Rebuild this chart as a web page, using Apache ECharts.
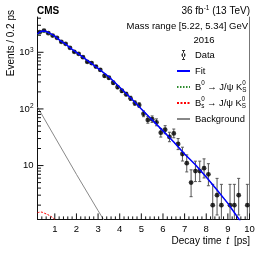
<!DOCTYPE html>
<html><head><meta charset="utf-8">
<script src="https://cdn.jsdelivr.net/npm/echarts@6/dist/echarts.min.js"></script>
<style>html,body{margin:0;padding:0;background:#fff}#c{width:266px;height:255px}</style>
</head><body><div id="c"></div>
<script>
// ---- data ----
const binCenters = [0.3,0.5,0.7,0.9,1.1,1.3,1.5,1.7,1.9,2.1,2.3,2.5,2.7,2.9,3.1,3.3,3.5,3.7,3.9,4.1,4.3,4.5,4.7,4.9,5.1,5.3,5.5,5.7,5.9,6.1,6.3,6.5,6.7,6.9,7.1,7.3,7.5,7.7,7.9,8.1,8.3,8.5,8.7,8.9,9.1,9.3,9.5,9.7,9.9];
const counts = [2270,2420,2180,1970,1800,1530,1410,1200,1020,940,820,680,645,560,490,385,355,290,243,209,182,154,127,117,82,64,66,58,38,43,32,37,24,16,11,5,8,8,9,7,2,3,2,0,2,2,3,0,2];
const fitT = [0.2,0.3,0.4,0.5,0.6,0.8,1.0,1.25,1.5,1.75,2.0,2.5,3.0,3.5,4.0,4.5,5.0,5.5,6.0,6.5,7.0,7.5,8.0,8.5,9.0,9.5,9.8];
const fitV = [2100,2280,2360,2370,2330,2130,1930,1610,1390,1160,1000,720,520,370,242,158,100,64,41,26,16,10.3,6.3,3.7,2.15,1.15,0.75];
const b0V  = [1990,2180,2270,2290,2260,2075,1895,1590,1378,1153,995,718,519,370,242,158,100,64,41,26,16,10.3,6.3,3.7,2.15,1.15,0.75];
const bsT = [0.2,0.36,0.54,0.77,1.0,1.2];
const bsV = [1.47,1.51,1.43,1.30,1.12,0.95];
const bkgT = [0.2,1.0,2.0,3.0,3.5];
const bkgV = [108,32,7.0,1.6,0.78];
const xMin = 0.2, xMax = 10, yMin = 1.12, yMax = 4200;
const xMajorTicks = [1,2,3,4,5,6,7,8,9,10];
const yMajorTicks = [10,100,1000];
const yMinorTicks = [2,3,4,5,6,7,8,9,20,30,40,50,60,70,80,90,200,300,400,500,600,700,800,900,2000,3000,4000];
const xMinorTicks = [];
for (let i = 2; i <= 49; i++) { const t = Math.round(i*2)/10; if (Math.abs(t - Math.round(t)) > 1e-6) xMinorTicks.push(t); }

const FONT = 'Liberation Sans, Arial, Helvetica, sans-serif';

// Poisson (Garwood-like) intervals derived from counts
const errData = [];
const pts = [];
binCenters.forEach((t, i) => {
  const n = counts[i];
  if (n > 0) {
    pts.push([t, n]);
    errData.push([t, n, n - Math.sqrt(n - 0.25), n + Math.sqrt(n + 0.75) + 1]);
  }
});
const zip = (a, b) => a.map((v, i) => [v, b[i]]);

const tickData = [];
xMajorTicks.forEach(t => tickData.push([t, yMin, 6, 0]));
xMinorTicks.forEach(t => tickData.push([t, yMin, 3, 0]));
yMajorTicks.forEach(v => tickData.push([xMin, v, 6, 1]));
yMinorTicks.forEach(v => tickData.push([xMin, v, 3.5, 1]));

const legendLabels = {
  'Data': 'Data',
  'Fit': 'Fit',
  'B0': 'B{sup|0} → J/ψ K{sup0|0}{sub|S}',
  'Bs': 'B{sup0|0}{sub|s} → J/ψ K{sup0|0}{sub|S}',
  'Background': 'Background'
};
const noSym = {opacity: 0};

const chart = echarts.init(document.getElementById('c'), null, {renderer: 'canvas'});
chart.setOption({
  animation: false,
  textStyle: {fontFamily: FONT},
  grid: {left: 37.5, right: 16.5, top: 17, bottom: 35.6},
  xAxis: {
    type: 'value', min: xMin, max: xMax, splitNumber: 10,
    axisLine: {show: true, onZero: false, lineStyle: {color: '#111', width: 1}},
    axisTick: {show: false}, splitLine: {show: false},
    axisLabel: {
      fontFamily: FONT, fontSize: 9.5, color: '#000', margin: 5,
      showMinLabel: false,
      formatter: v => (Math.abs(v - Math.round(v)) < 1e-6 && v >= 1) ? String(Math.round(v)) : ''
    }
  },
  yAxis: [{
    type: 'log', logBase: 10, min: yMin, max: yMax,
    axisLine: {show: true, lineStyle: {color: '#111', width: 1}},
    axisTick: {show: false}, splitLine: {show: false},
    axisLabel: {
      fontFamily: FONT, fontSize: 9.5, color: '#000', margin: 4, lineHeight: 12,
      showMinLabel: false, showMaxLabel: false,
      formatter: v => {
        const l = Math.log10(v), e = Math.round(l);
        if (Math.abs(l - e) > 1e-6 || e < 1) return '';
        return e === 1 ? '10' : '10{sup|' + e + '}';
      },
      rich: {sup: {fontSize: 6.5, lineHeight: 8, verticalAlign: 'top', fontFamily: FONT}}
    }
  }, {
    type: 'log', logBase: 10, min: yMin, max: yMax, position: 'right',
    axisLine: {show: true, lineStyle: {color: '#777', width: 1}},
    axisTick: {show: false}, axisLabel: {show: false}, splitLine: {show: false}
  }],
  legend: {
    orient: 'vertical', left: 176, top: 48.5, padding: 0, itemWidth: 13, itemHeight: 10, itemGap: 3,
    selectedMode: false,
    textStyle: {
      fontFamily: FONT, fontSize: 9.4, color: '#000', lineHeight: 13,
      rich: {
        sup: {fontSize: 6.3, lineHeight: 7, verticalAlign: 'top'},
        sup0: {fontSize: 6.3, lineHeight: 7, verticalAlign: 'top', width: 0},
        sub: {fontSize: 6.3, lineHeight: 7, verticalAlign: 'bottom'}
      }
    },
    formatter: n => legendLabels[n],
    data: [
      {name: 'Data', icon: 'path://M2,0H3V10H2Z M1,0H4V0.9H1Z M1,9.1H4V10H1Z M0.4,5A2.1,2.1,0,1,0,4.6,5A2.1,2.1,0,1,0,0.4,5Z'},
      {name: 'Fit', itemStyle: noSym},
      {name: 'B0', itemStyle: noSym},
      {name: 'Bs', itemStyle: noSym},
      {name: 'Background', itemStyle: noSym}
    ]
  },
  series: [
    {
      name: 'DataErr', type: 'custom', z: 3, silent: true,
      data: errData,
      renderItem: (params, api) => {
        const t = api.value(0), lo = api.value(2), hi = api.value(3);
        const top = api.coord([t, Math.min(hi, yMax)]);
        const botV = Math.max(lo, yMin);
        const bot = api.coord([t, botV]);
        const st = {stroke: '#555', lineWidth: 1};
        const children = [{type: 'line', shape: {x1: top[0], y1: top[1], x2: bot[0], y2: bot[1]}, style: st}];
        if (hi < yMax) children.push({type: 'line', shape: {x1: top[0]-1.5, y1: top[1], x2: top[0]+1.5, y2: top[1]}, style: st});
        if (lo > yMin) children.push({type: 'line', shape: {x1: bot[0]-1.5, y1: bot[1], x2: bot[0]+1.5, y2: bot[1]}, style: st});
        return {type: 'group', children};
      }
    },
    {
      name: 'Data', type: 'scatter', z: 4, data: pts, symbol: 'circle', symbolSize: 4.8,
      itemStyle: {color: '#000'}
    },
    {
      name: 'B0', type: 'line', z: 5, data: zip(fitT, b0V), symbol: 'none', showSymbol: false,
      lineStyle: {color: '#2e8b2e', width: 1, type: [1.5, 1.5]}, itemStyle: {color: '#2e8b2e'}
    },
    {
      name: 'Fit', type: 'line', z: 6, data: zip(fitT, fitV), symbol: 'none', showSymbol: false,
      lineStyle: {color: '#0000ff', width: 1.5}, itemStyle: {color: '#0000ff'}
    },
    {
      name: 'Bs', type: 'line', z: 6, data: zip(bsT, bsV), symbol: 'none', showSymbol: false, smooth: 0.4,
      lineStyle: {color: '#ff0000', width: 1, type: [2, 1.5]}, itemStyle: {color: '#ff0000'}
    },
    {
      name: 'Background', type: 'line', z: 6, data: zip(bkgT, bkgV), symbol: 'none', showSymbol: false,
      lineStyle: {color: '#888', width: 1}, itemStyle: {color: '#888'}
    },
    {
      name: 'ticks', type: 'custom', z: 7, silent: true, data: tickData,
      encode: {x: 0, y: 1},
      renderItem: (params, api) => {
        const p = api.coord([api.value(0), api.value(1)]);
        const len = api.value(2), vert = api.value(3);
        const shape = vert ? {x1: p[0], y1: p[1], x2: p[0] + len, y2: p[1]}
                           : {x1: p[0], y1: p[1], x2: p[0], y2: p[1] - len};
        return {type: 'line', shape, style: {stroke: '#111', lineWidth: 1}};
      }
    }
  ],
  graphic: [
    {type: 'text', left: 37, top: 6, style: {text: 'CMS', font: 'bold 10px ' + FONT, fill: '#000'}},
    {type: 'text', right: 16, top: 5, style: {text: '36 fb{sup|-1} (13 TeV)', fontFamily: FONT, fontSize: 10, fill: '#000', lineHeight: 13,
      rich: {sup: {fontSize: 6.5, lineHeight: 8, verticalAlign: 'top', fontFamily: FONT}}}},
    {type: 'text', right: 18, top: 21.5, style: {text: 'Mass range [5.22, 5.34] GeV', fontFamily: FONT, fontSize: 9.5, fill: '#000'}},
    {type: 'text', x: 204, y: 40.7, style: {text: '2016', fontFamily: FONT, fontSize: 9.5, fill: '#000', align: 'center', verticalAlign: 'middle'}},
    {type: 'text', x: 11, y: 10, rotation: Math.PI / 2, style: {text: 'Events / 0.2 ps', fontFamily: FONT, fontSize: 10, fill: '#000', align: 'right', verticalAlign: 'middle'}},
    {type: 'text', x: 250, y: 241.7, style: {text: 'Decay time {it|t} [ps]', fontFamily: FONT, fontSize: 10, fill: '#000', align: 'right', verticalAlign: 'middle',
      rich: {it: {fontStyle: 'italic', fontFamily: FONT, fontSize: 10, padding: [0, 2, 0, 2]}}}}
  ]
});
</script></body></html>
